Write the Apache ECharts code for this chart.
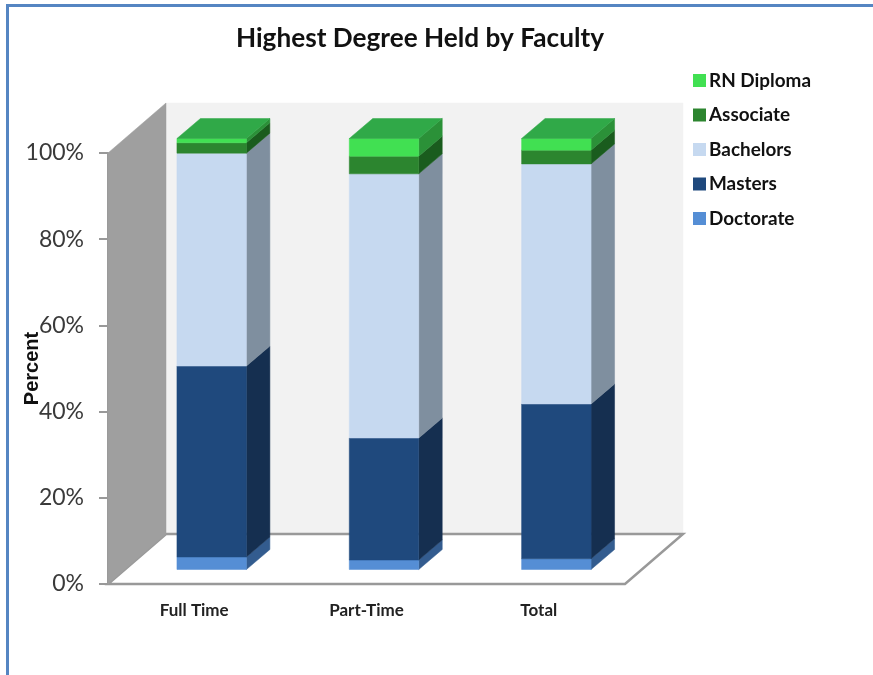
<!DOCTYPE html>
<html>
<head>
<meta charset="utf-8">
<style>html,body{margin:0;padding:0;background:#fff}#c{width:873px;height:675px}</style>
<script src="https://cdn.jsdelivr.net/npm/echarts@6/dist/echarts.min.js"></script>
</head>
<body>
<div id="c"></div>
<script>
const categories = ['Full Time', 'Part-Time', 'Total'];
const doctorate = [2.9, 2.2, 2.5];
const masters = [44.3, 28.3, 35.9];
const bachelors = [49.4, 61.3, 55.7];
const associate = [2.4, 4.1, 3.2];
const rnDiploma = [1.0, 4.1, 2.7];
const yTicks = [0, 20, 40, 60, 80, 100];

const stackOrder = [
  { name: 'Doctorate', values: doctorate, front: '#558ed5', side: '#335c8f' },
  { name: 'Masters', values: masters, front: '#1f497d', side: '#152f50' },
  { name: 'Bachelors', values: bachelors, front: '#c6d9f0', side: '#7f8f9f' },
  { name: 'Associate', values: associate, front: '#2c852f', side: '#1a5c1e' },
  { name: 'RN Diploma', values: rnDiploma, front: '#41e052', side: '#2b9138' }
];
const TOP_COLOR = '#30a948';

// projection of the pseudo-3D box
const WALL_DX = 58, WALL_DY = -50;
const BAR_DX = 17.5, BAR_DY = -14.5;
const DEPTH_DX = 23.5, DEPTH_DY = -20;
const BAR_WIDTH_RATIO = 0.403;

function poly(pts, fill) {
  return { type: 'polygon', shape: { points: pts }, style: { fill: fill, stroke: fill, lineWidth: 0.5 } };
}

function renderWalls(params, api) {
  const c = params.coordSys;
  const L = c.x, R = c.x + c.width, T = c.y, B = c.y + c.height;
  const grey = '#999999';
  return {
    type: 'group',
    children: [
      poly([[L + WALL_DX, T + WALL_DY], [R + WALL_DX, T + WALL_DY], [R + WALL_DX, B + WALL_DY], [L + WALL_DX, B + WALL_DY]], '#f2f2f2'),
      { type: 'polygon', shape: { points: [[L, B], [L + WALL_DX, B + WALL_DY], [R + WALL_DX, B + WALL_DY], [R, B]] },
        style: { fill: '#ffffff', stroke: grey, lineWidth: 2.5 } },
      poly([[L, T], [L + WALL_DX, T + WALL_DY], [L + WALL_DX, B + WALL_DY], [L, B]], '#9f9f9f')
    ]
  };
}

function makeRender(seg, isTop) {
  return function (params, api) {
    const i = api.value(0);
    const lo = api.coord([i, api.value(1)]);
    const hi = api.coord([i, api.value(2)]);
    const w = api.size([1, 0])[0] * BAR_WIDTH_RATIO;
    const x0 = lo[0] + BAR_DX - w / 2, x1 = x0 + w;
    const yB = lo[1] + BAR_DY, yT = hi[1] + BAR_DY;
    const children = [
      poly([[x1, yB], [x1 + DEPTH_DX, yB + DEPTH_DY], [x1 + DEPTH_DX, yT + DEPTH_DY], [x1, yT]], seg.side),
      poly([[x0, yB], [x1, yB], [x1, yT], [x0, yT]], seg.front)
    ];
    if (isTop) {
      children.push(poly([[x0, yT], [x0 + DEPTH_DX, yT + DEPTH_DY], [x1 + DEPTH_DX, yT + DEPTH_DY], [x1, yT]], TOP_COLOR));
    }
    return { type: 'group', children: children };
  };
}

let running = categories.map(() => 0);
const barSeries = stackOrder.map((seg, k) => {
  const data = seg.values.map((v, i) => {
    const item = [i, running[i], running[i] + v];
    running[i] += v;
    return item;
  });
  return {
    name: seg.name,
    type: 'custom',
    coordinateSystem: 'cartesian2d',
    renderItem: makeRender(seg, k === stackOrder.length - 1),
    encode: { x: 0, y: [1, 2] },
    itemStyle: { color: seg.front },
    data: data,
    z: 5 + k,
    silent: true,
    animation: false
  };
});

const chart = echarts.init(document.getElementById('c'), null, { renderer: 'canvas' });
chart.setOption({
  animation: false,
  backgroundColor: '#ffffff',
  title: {
    text: 'Highest Degree Held by Faculty',
    left: 415, top: 21, textAlign: 'center',
    textStyle: { fontFamily: 'Lato', fontWeight: 'bold', fontSize: 26.2, color: '#111111' }
  },
  legend: {
    orient: 'vertical', left: 688, top: 66,
    icon: 'rect', itemWidth: 13, itemHeight: 13, itemGap: 15.5,
    data: ['RN Diploma', 'Associate', 'Bachelors', 'Masters', 'Doctorate'],
    textStyle: { fontFamily: 'Lato', fontWeight: 'bold', fontSize: 18.9, color: '#111111', padding: [0, 0, 0, -2] },
    selectedMode: false
  },
  grid: { left: 108, top: 153, width: 517, height: 431, outerBoundsMode: 'none', containLabel: false },
  xAxis: {
    type: 'category', data: categories,
    axisLine: { show: false },
    axisTick: { show: false },
    axisLabel: { margin: 18, fontFamily: 'Lato', fontWeight: 'bold', fontSize: 17, color: '#222222' },
    splitLine: { show: false }
  },
  yAxis: {
    type: 'value', min: 0, max: 100, interval: yTicks[1] - yTicks[0],
    name: 'Percent', nameLocation: 'middle', nameRotate: 90, nameGap: 66, nameMoveOverlap: false,
    nameTextStyle: { fontFamily: 'Liberation Sans', fontWeight: 'bold', fontSize: 20, color: '#111111' },
    axisLine: { show: true, lineStyle: { color: '#999999', width: 2 } },
    axisTick: { show: true, length: 9, lineStyle: { color: '#999999', width: 2 } },
    axisLabel: { margin: 24, formatter: '{value}%', fontFamily: 'Lato', fontSize: 23, color: '#3a3a3a', padding: [4, 0, 0, 0] },
    splitLine: { show: false }
  },
  graphic: [
    { type: 'rect', shape: { x: 6, y: 4, width: 867, height: 3 }, style: { fill: '#5585c2' }, silent: true },
    { type: 'rect', shape: { x: 6, y: 4, width: 3, height: 671 }, style: { fill: '#5585c2' }, silent: true }
  ],
  series: [{
    name: 'walls', type: 'custom', coordinateSystem: 'cartesian2d',
    renderItem: renderWalls, encode: { x: 0, y: 1 }, data: [[0, 0]], z: 1, silent: true
  }].concat(barSeries)
});
</script>
</body>
</html>
